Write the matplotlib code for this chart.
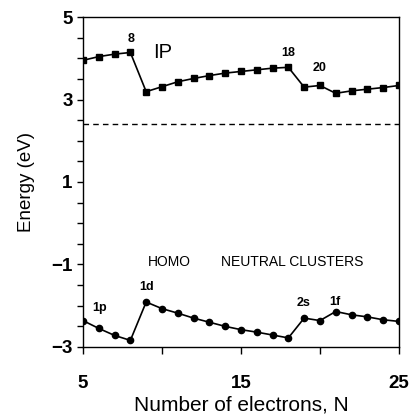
import matplotlib
matplotlib.use("Agg")
import matplotlib.pyplot as plt
import numpy as np
from matplotlib.ticker import MultipleLocator

plt.rcParams['font.family'] = ['Liberation Sans', 'DejaVu Sans']

N = list(range(5, 26))
ip = [3.95, 4.04, 4.10, 4.14, 3.19, 3.31, 3.43, 3.51, 3.58, 3.64, 3.68, 3.72,
      3.76, 3.78, 3.30, 3.34, 3.15, 3.21, 3.25, 3.29, 3.34]
homo = [-2.36, -2.55, -2.72, -2.84, -1.91, -2.07, -2.18, -2.30, -2.40, -2.50,
        -2.58, -2.64, -2.71, -2.78, -2.30, -2.36, -2.14, -2.22, -2.27, -2.34, -2.38]
dashed_level = 2.4

fig = plt.figure(figsize=(4.1, 4.15), dpi=100)
ax = fig.add_axes([0.2024, 0.1639, 0.7706, 0.7951])

ax.plot(N, ip, '-', color='black', lw=1.2, marker='s', ms=4.2)
ax.plot(N, homo, '-', color='black', lw=1.2, marker='o', ms=4.5)
ax.axhline(dashed_level, color='black', lw=1.0, ls=(0, (4, 3)))

ax.set_xlim(5, 25)
ax.set_ylim(-3, 5)
ax.set_xticks([5, 15, 25])
ax.xaxis.set_minor_locator(MultipleLocator(5))
ax.set_yticks([-3, -1, 1, 3, 5])
ax.set_yticklabels(['\u22123', '\u22121', '1', '3', '5'])
ax.yaxis.set_minor_locator(MultipleLocator(0.5))
ax.tick_params(axis='both', which='both', direction='out', length=4, width=1,
               labelsize=13.5, top=False, right=False)
ax.tick_params(axis='x', which='both', length=5, pad=15)
for lbl in ax.get_xticklabels() + ax.get_yticklabels():
    lbl.set_fontweight('bold')
for s in ax.spines.values():
    s.set_linewidth(1.0)

ax.set_xlabel('Number of electrons, N', fontsize=15, labelpad=3)
ax.set_ylabel('Energy (eV)', fontsize=13.5, labelpad=12)

small = dict(fontsize=9, fontweight='bold', ha='center', va='center')
ax.text(8.02, 4.47, '8', **small)
ax.text(17.97, 4.13, '18', **small)
ax.text(20.0, 3.76, '20', **small)
ax.text(9.03, -1.54, '1d', **small)
ax.text(6.08, -2.06, '1p', **small)
ax.text(18.99, -1.93, '2s', **small)
ax.text(20.95, -1.90, '1f', **small)
ax.text(10.06, 4.14, 'IP', fontsize=14.5, ha='center', va='center')
ax.text(10.5, -0.93, 'HOMO', fontsize=10, ha='center', va='center')
ax.text(18.27, -0.93, 'NEUTRAL CLUSTERS', fontsize=10, ha='center', va='center')

fig.savefig('out.png', dpi=100)
